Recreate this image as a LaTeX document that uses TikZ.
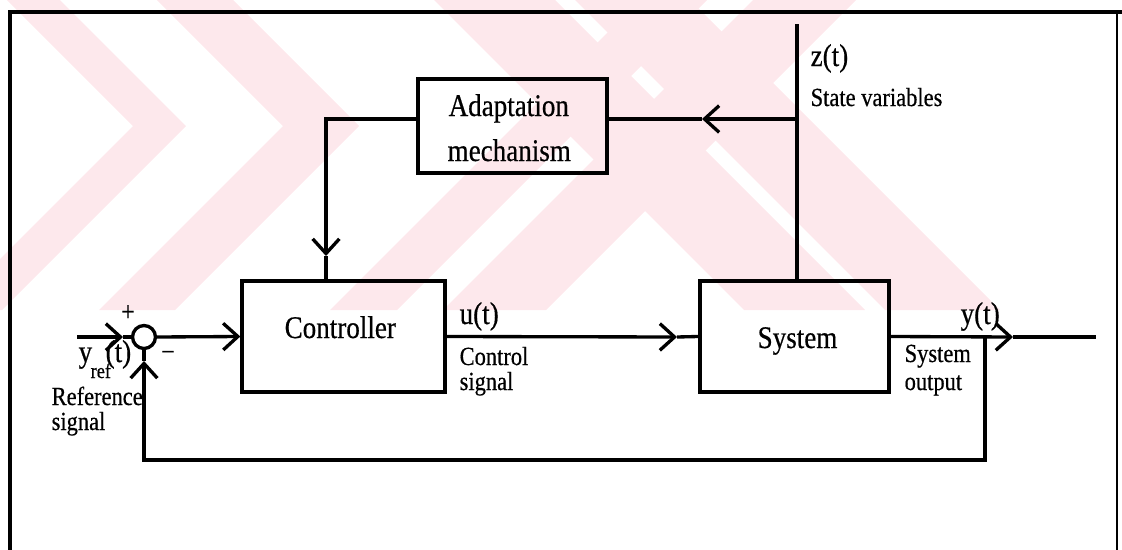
\documentclass[tikz,border=0pt]{standalone}
\usepackage{fontspec}
\setmainfont{Liberation Serif}[FakeStretch=0.86,FakeBold=0.5]
\usetikzlibrary{arrows.meta}
\definecolor{wmark}{RGB}{253,232,236}

\begin{document}
\begin{tikzpicture}[x=0.75pt,y=-0.75pt,line width=2.5pt,
  blk/.style={draw,line width=2.5pt,inner sep=0pt},
  barb/.style={-{Straight Barb[length=11pt,width=20pt]}},
  big/.style={inner sep=0pt,anchor=base west,font=\fontsize{23.6}{27}\selectfont},
  small/.style={inner sep=0pt,anchor=base west,font=\fontsize{19.6}{23}\selectfont},
  tiny/.style={inner sep=0pt,font=\fontsize{21}{22}\selectfont}]
\useasboundingbox (0,0) rectangle (1122,550);

% faint background emblem
\begin{scope}
  \clip (0,0) rectangle (1122,310);
  \fill[wmark] (7,0) -- (60,0) -- (186,126) -- (2,310) -- (-51,310) -- (133,126) -- cycle;
  \fill[wmark] (157,0) -- (233,0) -- (359,126) -- (175,310) -- (99,310) -- (283,126) -- cycle;
  \fill[wmark] (434,0) -- (555,0) -- (865,310) -- (744,310) -- cycle;
  \fill[wmark] (575,0) -- (690,0) -- (1000,310) -- (885,310) -- cycle;
  \fill[wmark] (640,0) -- (707,0) -- (397,310) -- (330,310) -- cycle;
  \fill[wmark] (753,0) -- (856,0) -- (546,310) -- (443,310) -- cycle;
\end{scope}

% page frame
\draw (10,550) -- (10,12) -- (1122,12);
\draw[line width=1.6pt] (1117,12) -- (1117,550);

% blocks
\node[blk,minimum width=141.75pt,minimum height=70.5pt] (ad) at (512.5,126) {};
\node[blk,minimum width=152.25pt,minimum height=83.25pt] (ctrl) at (343.5,336.5) {};
\node[blk,minimum width=141.75pt,minimum height=83.25pt] (sys) at (794.5,336.5) {};
\node[circle,draw,line width=2.5pt,minimum size=17.25pt,inner sep=0pt] (sum) at (144,337) {};

% block texts
\node[big] (adt1) at (447,116) {Adaptation};
\node[big] (adt2) at (446,161) {mechanism};
\node[big] (ctt) at (283,338) {Controller};
\node[big] (syt) at (756,348) {System};

% connector points
\coordinate (in) at (77,337);
\coordinate (t1) at (123,337);
\coordinate (t3) at (677,337);
\coordinate (t4) at (1013,337);
\coordinate (out) at (1096,337);
\coordinate (tap) at (985,337);
\coordinate (fbr) at (985,460);
\coordinate (fbl) at (144,460);
\coordinate (t5) at (144,361);
\coordinate (ztop) at (797,24);
\coordinate (br) at (797,119);
\coordinate (t6) at (702,119);
\coordinate (corner) at (326,119);
\coordinate (t7) at (326,256);

% forward path
\draw[barb] (in) -- (t1);
\draw (t1) -- (sum.west);
\draw[barb] (sum.east) -- (ctrl.west);
\draw[barb] (ctrl.east) -- (t3);
\draw (t3) -- (sys.west);
\draw[barb] (sys.east) -- (t4);
\draw (t4) -- (out);

% feedback path
\draw[barb] (tap) -- (fbr) -- (fbl) -- (t5);
\draw (t5) -- (sum.south);

% adaptation loop
\draw (ztop) -- (ztop |- sys.north);
\draw[barb] (br) -- (t6);
\draw (t6) -- (br -| ad.east);
\draw[barb] (ad.west |- br) -- (corner) -- (t7);
\draw (t7) -- (t7 |- ctrl.north);

% signal labels
\node[big] (zl) at (809,66) {z(t)};
\node[small] (zs) at (809,106) {State variables};
\node[big] (ul) at (458,324) {u(t)};
\node[small] (us1) at (458,365) {Control};
\node[small] (us2) at (458,390) {signal};
\node[big] (yl) at (959,324) {y(t)};
\node[small] (ys1) at (903,362) {System};
\node[small] (ys2) at (903,390) {output};
\node[big] (ry) at (77,362) {y};
\node[inner sep=0pt,anchor=base west,font=\fontsize{16}{18}\selectfont] (rsub) at (89,378) {ref};
\node[big] (rt) at (104,362) {(t)};
\node[small] (rs1) at (50,405) {Reference};
\node[small] (rs2) at (50,430) {signal};
\node[tiny] (plus) at (128,313) {+};
\node[tiny] (minus) at (168,356) {−};
\end{tikzpicture}
\end{document}
